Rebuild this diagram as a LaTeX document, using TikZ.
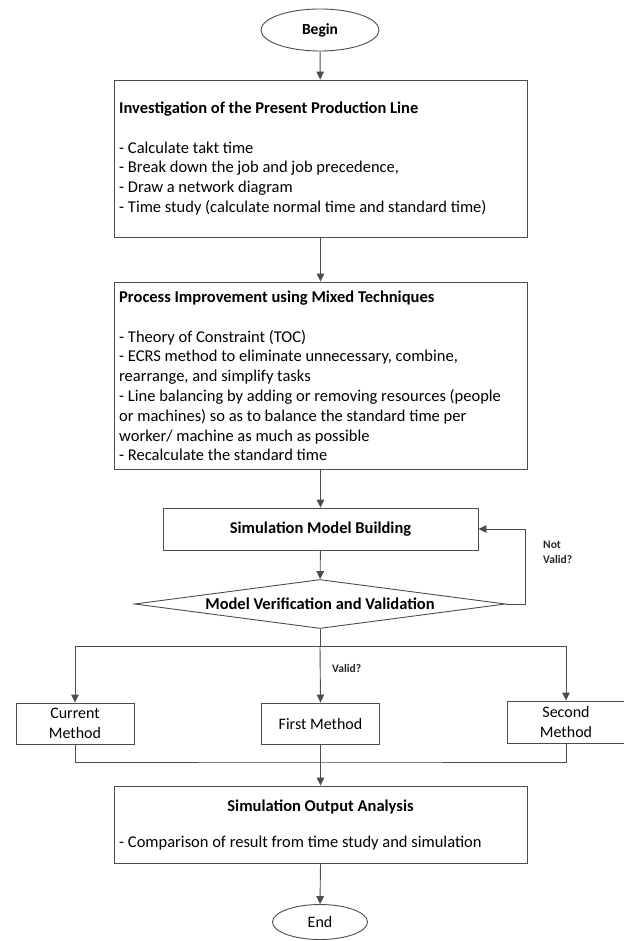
\documentclass[tikz,border=0pt]{standalone}
\usepackage{fontspec}
\setmainfont{Carlito}
\usetikzlibrary{shapes.geometric,arrows.meta}
\begin{document}
\begin{tikzpicture}[x=1pt,y=-1pt,
  ln/.style={draw=black!70, line width=0.9pt},
  arr/.style={ln,-{Triangle[length=8pt,width=7.5pt]}},
  box/.style={draw=black!70, line width=0.9pt, rectangle, inner sep=0pt, fill=white},
  oval/.style={draw=black!70, line width=0.9pt, ellipse, inner sep=0pt},
  txt/.style={font=\fontsize{16.5}{19.8}\selectfont, inner sep=0pt, align=left, text=black},
  btxt/.style={font=\fontsize{16.5}{19.8}\selectfont\bfseries, inner sep=0pt, text=black},
  small/.style={font=\fontsize{11.5}{15}\selectfont\bfseries, inner sep=0pt, align=left, text=black!85},
  mtxt/.style={font=\fontsize{16}{20}\selectfont, align=center, text=black},
]
\useasboundingbox (0,0) rectangle (623,941);

\node[oval, minimum width=118pt, minimum height=42pt, font=\fontsize{15.5}{18}\selectfont\bfseries] (begin) at (320,30) {Begin};

\node[box, minimum width=413pt, minimum height=157pt] (inv) at (320.5,158.5) {};
\node[txt, anchor=west] (invt) at (119,158.5) {\textbf{Investigation of the Present Production Line}\\[19.8pt]
- Calculate takt time\\
- Break down the job and job precedence,\\
- Draw a network diagram\\
- Time study (calculate normal time and standard time)};

\node[box, minimum width=413pt, minimum height=187pt] (imp) at (320.5,375.5) {};
\node[txt, anchor=west] (impt) at (119,376) {\textbf{Process Improvement using Mixed Techniques}\\[19.8pt]
- Theory of Constraint (TOC)\\
- ECRS method to eliminate unnecessary, combine,\\
rearrange, and simplify tasks\\
- Line balancing by adding or removing resources (people\\
or machines) so as to balance the standard time per\\
worker/ machine as much as possible\\
- Recalculate the standard time};

\node[box, minimum width=315pt, minimum height=42pt, btxt] (smb) at (320.5,529) {Simulation Model Building};

\node[diamond, draw=black!70, line width=0.9pt, inner sep=0pt, aspect=7.57,
  minimum width=371pt, minimum height=49pt, btxt] (ver) at (320,604) {Model Verification and Validation};

\coordinate (loop) at (525,529);
\node[small, anchor=west] (nv) at (543,552) {Not\\Valid?};

\coordinate (split) at (320,646);
\node[small, anchor=west] (val) at (332,668) {Valid?};

\node[box, minimum width=118pt, minimum height=41pt, mtxt] (cur) at (75,723.5) {Current\\Method};
\node[box, minimum width=118pt, minimum height=41pt, mtxt] (first) at (320.5,723.5) {First Method};
\node[box, minimum width=118pt, minimum height=42pt, mtxt] (sec) at (566,722) {Second\\Method};

\coordinate (join) at (320,762);

\node[box, minimum width=413pt, minimum height=77pt] (out) at (320.5,824.5) {};
\node[btxt] (outh) at (320.5,807) {Simulation Output Analysis};
\node[txt, anchor=west] (outt) at (119,843) {- Comparison of result from time study and simulation};

\node[oval, minimum width=95pt, minimum height=35pt, font=\fontsize{16}{18}\selectfont] (end) at (320,922) {End};

\draw[arr] (begin) -- (inv);
\draw[arr] (inv) -- (imp);
\draw[arr] (imp) -- (smb);
\draw[arr] (smb) -- (ver);
\draw[arr] (ver.east) -| (loop) -- (smb.east);
\draw[ln] (ver.south) -- (split);
\draw[arr] (split) -- (first.north);
\draw[arr] (split) -| (cur.north);
\draw[arr] (split) -| (sec.north);
\draw[ln] (cur.south) |- (join) -| (sec.south);
\draw[arr] (first.south) -- (out.north);
\draw[arr] (out.south) -- (end.north);
\end{tikzpicture}
\end{document}
